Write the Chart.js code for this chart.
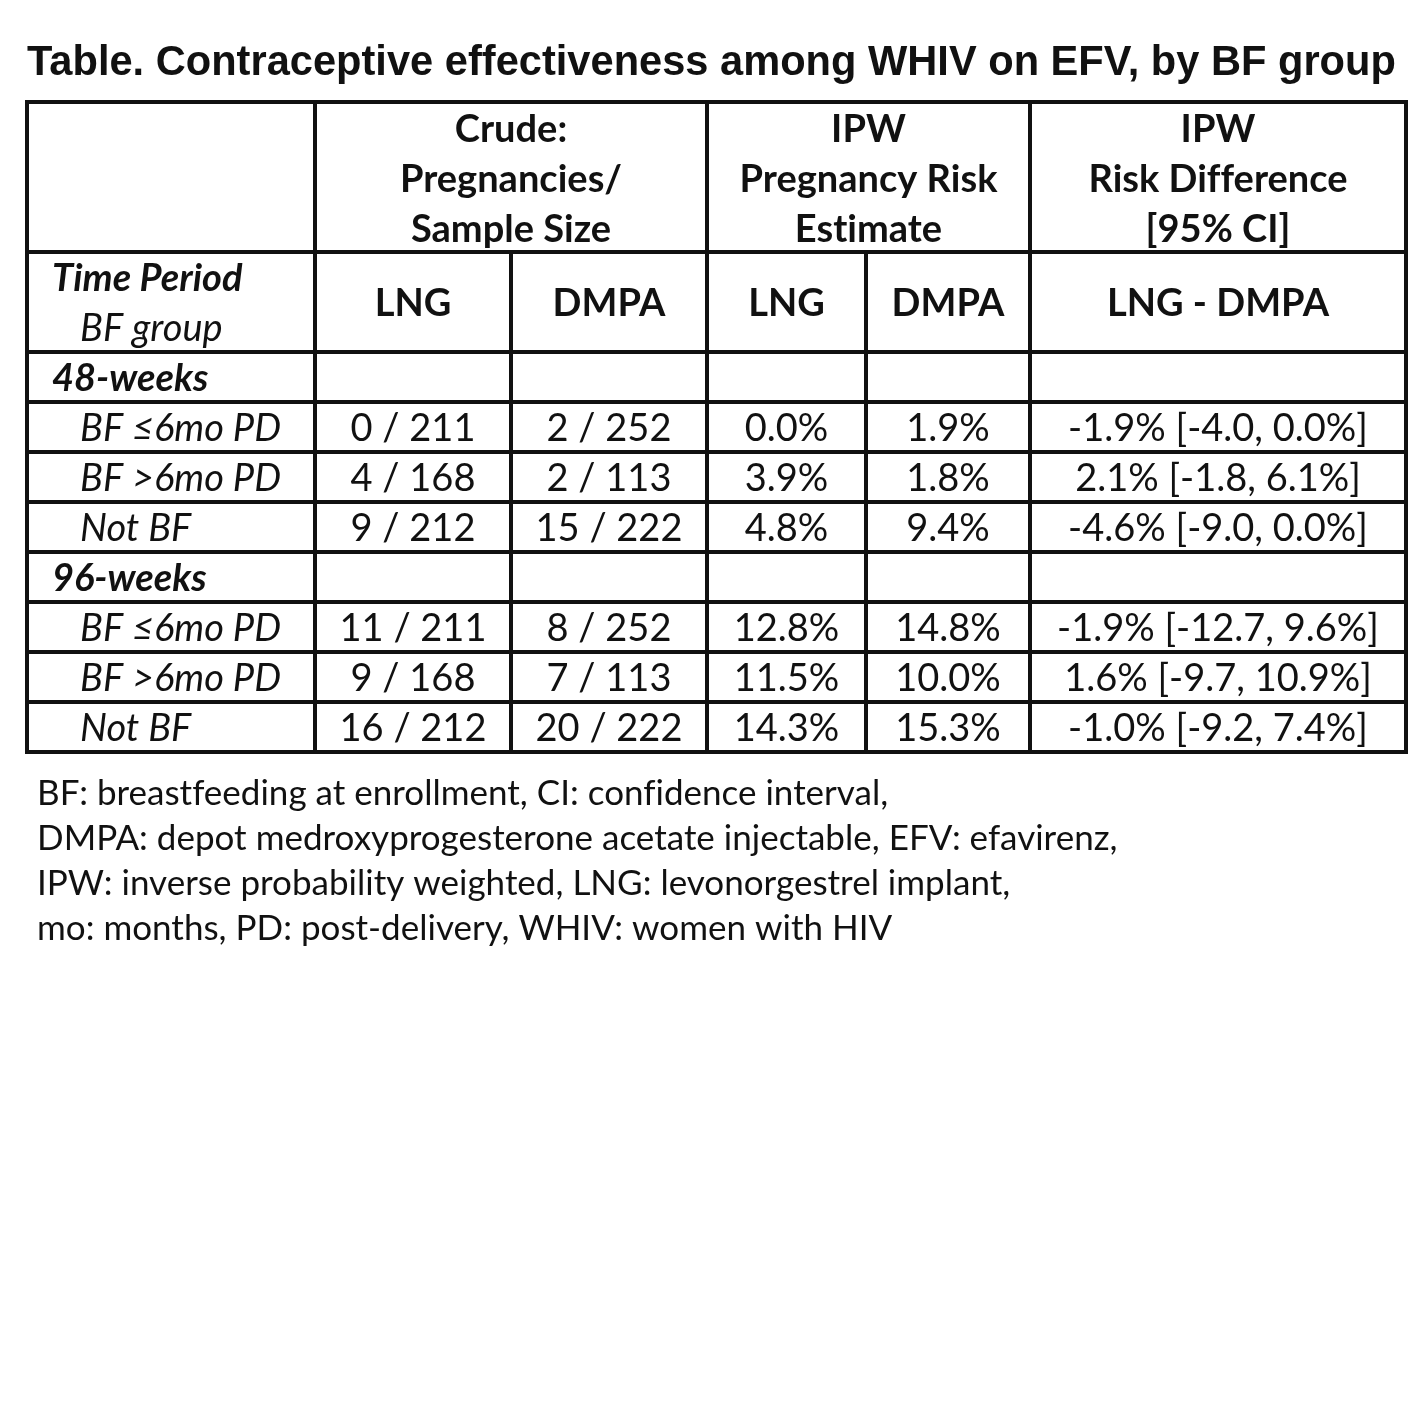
<!DOCTYPE html>
<html>
<head>
<meta charset="utf-8">
<script src="https://cdn.jsdelivr.net/npm/chart.js@4.4.1/dist/chart.umd.min.js"></script>
<style>
  html, body { margin: 0; padding: 0; background: #fff; }
  canvas { display: block; }
</style>
</head>
<body>
<canvas id="myChart" width="1425" height="1425"></canvas>
<script>
// table content
const title = 'Table. Contraceptive effectiveness among WHIV on EFV, by BF group'
const groupHeaders = [
  ['Crude:', 'Pregnancies/', 'Sample Size'],
  ['IPW', 'Pregnancy Risk', 'Estimate'],
  ['IPW', 'Risk Difference', '[95% CI]']
]
const subHeaders = ['LNG', 'DMPA', 'LNG', 'DMPA', 'LNG - DMPA']
const periods = ['48-weeks', '96-weeks']
const bfGroups = ['BF ≤6mo PD', 'BF >6mo PD', 'Not BF']

// one entry per data row: 48 weeks (3 groups) then 96 weeks (3 groups)
const lngPreg = [0, 4, 9, 11, 9, 16]
const lngN = [211, 168, 212, 211, 168, 212]
const dmpaPreg = [2, 2, 15, 8, 7, 20]
const dmpaN = [252, 113, 222, 252, 113, 222]
const lngRisk = [0.0, 3.9, 4.8, 12.8, 11.5, 14.3]
const dmpaRisk = [1.9, 1.8, 9.4, 14.8, 10.0, 15.3]
const riskDiff = [-1.9, 2.1, -4.6, -1.9, 1.6, -1.0]
const ciLow = [-4.0, -1.8, -9.0, -12.7, -9.7, -9.2]
const ciHigh = [0.0, 6.1, 0.0, 9.6, 10.9, 7.4]

const footnotes = [
  'BF: breastfeeding at enrollment, CI: confidence interval,',
  'DMPA: depot medroxyprogesterone acetate injectable, EFV: efavirenz,',
  'IPW: inverse probability weighted, LNG: levonorgestrel implant,',
  'mo: months, PD: post-delivery, WHIV: women with HIV'
]

// layout (page units)
const colEdges = [27, 315, 511, 707, 866, 1030, 1406]
const rowEdges = [102, 252, 352, 402, 452, 502, 552, 602, 652, 702, 752]
const FACE = 'Lato, Calibri, "Noto Sans", sans-serif'
const fontReg = '38px ' + FACE
const fontBold = 'bold 38px ' + FACE
const fontItal = 'italic 38px ' + FACE
const fontBoldItal = 'italic bold 38px ' + FACE

const pct = v => v.toFixed(1) + '%'

function colCenter(a, b) { return (colEdges[a] + colEdges[b]) / 2 }
function rowCenter(r) { return (rowEdges[r] + rowEdges[r + 1]) / 2 + 2 }

// build text points
const cells = []
cells.push({ x: 27, y: 64, text: title, font: 'bold 41.6px "Liberation Sans", Arial, sans-serif', align: 'left' })

// group headers, 3 lines each
const spans = [[1, 3], [3, 5], [5, 6]]
groupHeaders.forEach((lines, g) => {
  lines.forEach((t, k) => {
    cells.push({ x: colCenter(spans[g][0], spans[g][1]), y: 130 + k * 50, text: t, font: fontBold, align: 'center' })
  })
})
cells.push({ x: 52, y: 279, text: 'Time Period', font: fontBoldItal, align: 'left' })
cells.push({ x: 80, y: 329, text: 'BF group', font: fontItal, align: 'left' })
subHeaders.forEach((t, i) => {
  cells.push({ x: colCenter(i + 1, i + 2), y: rowCenter(1), text: t, font: fontBold, align: 'center' })
})

let row = 2
periods.forEach((p, pi) => {
  cells.push({ x: 52, y: rowCenter(row), text: p, font: fontBoldItal, align: 'left' })
  row++
  bfGroups.forEach((g, gi) => {
    const i = pi * 3 + gi
    const y = rowCenter(row)
    cells.push({ x: 80, y: y, text: g, font: fontItal, align: 'left' })
    cells.push({ x: colCenter(1, 2), y: y, text: lngPreg[i] + ' / ' + lngN[i], font: fontReg, align: 'center' })
    cells.push({ x: colCenter(2, 3), y: y, text: dmpaPreg[i] + ' / ' + dmpaN[i], font: fontReg, align: 'center' })
    cells.push({ x: colCenter(3, 4), y: y, text: pct(lngRisk[i]), font: fontReg, align: 'center' })
    cells.push({ x: colCenter(4, 5), y: y, text: pct(dmpaRisk[i]), font: fontReg, align: 'center' })
    cells.push({ x: colCenter(5, 6), y: y,
      text: pct(riskDiff[i]) + ' [' + ciLow[i].toFixed(1) + ', ' + pct(ciHigh[i]) + ']', font: fontReg, align: 'center' })
    row++
  })
})

footnotes.forEach((t, k) => {
  cells.push({ x: 37, y: 794 + k * 45, text: t, font: '35px ' + FACE, align: 'left' })
})

// grid lines of the table, drawn through the scales
const tableLines = {
  id: 'tableLines',
  beforeDatasetsDraw(chart) {
    const ctx = chart.ctx
    const xs = chart.scales.x, ys = chart.scales.y
    const px = v => xs.getPixelForValue(v)
    const py = v => ys.getPixelForValue(v)
    ctx.save()
    ctx.strokeStyle = '#111'
    ctx.lineWidth = 4
    ctx.lineCap = 'square'
    const top = rowEdges[0], bot = rowEdges[rowEdges.length - 1]
    rowEdges.forEach(r => {
      ctx.beginPath()
      ctx.moveTo(px(colEdges[0]), py(r))
      ctx.lineTo(px(colEdges[6]), py(r))
      ctx.stroke()
    })
    colEdges.forEach((c, i) => {
      // cols 2 and 4 are merged in the first header row
      const from = (i == 2 || i == 4) ? rowEdges[1] : top
      ctx.beginPath()
      ctx.moveTo(px(c), py(from))
      ctx.lineTo(px(c), py(bot))
      ctx.stroke()
    })
    ctx.restore()
  }
}

const cellText = {
  id: 'cellText',
  afterDatasetsDraw(chart) {
    const ctx = chart.ctx
    const meta = chart.getDatasetMeta(0)
    ctx.save()
    ctx.fillStyle = '#111'
    ctx.textBaseline = 'middle'
    // tiny spacing keeps Lato from joining "ti" / "fi"
    if ('letterSpacing' in ctx) ctx.letterSpacing = '0.01px'
    meta.data.forEach((pt, i) => {
      const c = chart.data.datasets[0].data[i]
      ctx.font = c.font
      ctx.textAlign = c.align
      ctx.fillText(c.text, pt.x, pt.y)
    })
    ctx.restore()
  }
}

new Chart('myChart', {
  type: 'scatter',
  data: {
    datasets: [{
      data: cells,
      pointRadius: 0,
      pointHoverRadius: 0
    }]
  },
  options: {
    responsive: false,
    animation: false,
    devicePixelRatio: 1,
    layout: { padding: 0 },
    plugins: { legend: { display: false }, tooltip: { enabled: false } },
    scales: {
      x: { type: 'linear', min: 0, max: 1425, display: false },
      y: { type: 'linear', min: 0, max: 1425, reverse: true, display: false }
    }
  },
  plugins: [tableLines, cellText]
})
</script>
</body>
</html>
